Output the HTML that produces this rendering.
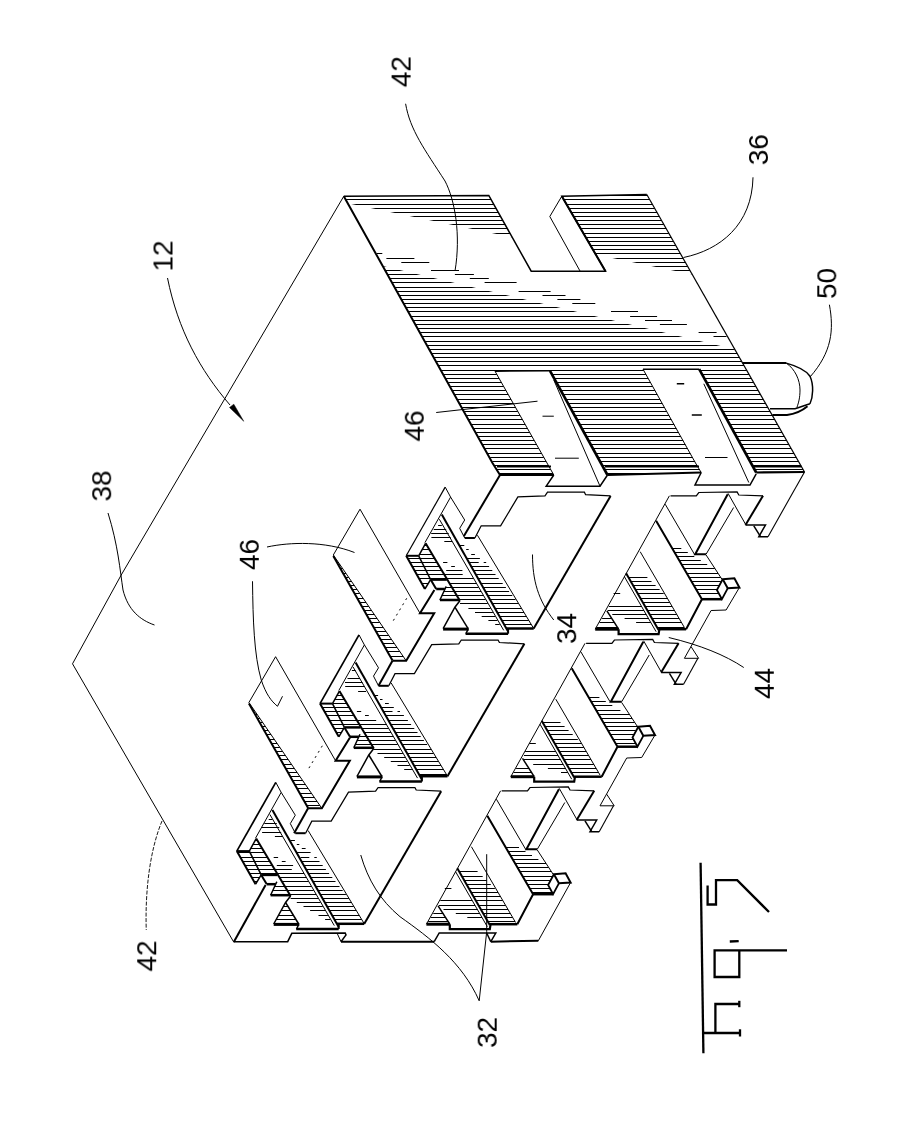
<!DOCTYPE html>
<html><head><meta charset="utf-8"><title>Fig. 7</title>
<style>
html,body{margin:0;padding:0;background:#fff;}
body{width:912px;height:1134px;overflow:hidden;font-family:"Liberation Sans",sans-serif;}
svg{display:block;}
.ln{stroke:#000;fill:none;stroke-linejoin:miter;stroke-linecap:butt;}
svg text{font-family:"Liberation Sans",sans-serif;fill:#000;stroke:none;}
.tx{opacity:.995;}
</style></head><body>
<svg width="912" height="1134" viewBox="0 0 912 1134">
<rect width="912" height="1134" fill="#fff"/>
<g><path class="ln" d="M598.2,195.5H647.3M345.6,199.5H491.0M563.6,199.5H649.6M348.4,204.5H493.8M566.6,204.5H652.4M350.6,208.5H496.0M568.9,208.5H654.7M352.9,212.5H498.3M571.2,212.5H657.0M355.1,216.5H500.5M573.6,216.5H659.3M357.3,220.5H502.8M575.9,220.5H661.5M359.6,224.5H505.0M578.2,224.5H663.8M361.8,228.5H507.3M580.6,228.5H666.1M364.6,233.5H510.1M583.5,233.5H668.9M366.9,237.5H512.3M585.8,237.5H671.2M369.1,241.5H514.6M588.1,241.5H673.5M371.4,245.5H516.8M590.5,245.5H675.7M373.6,249.5H519.0M592.8,249.5H678.0M375.8,253.5H521.3M595.1,253.5H680.3M378.6,258.5H524.1M598.1,258.5H683.1M380.9,262.5H526.3M600.4,262.5H685.4M383.1,266.5H528.6M602.7,266.5H687.7M385.4,270.5H530.8M605.1,270.5H690.0M387.6,274.5H692.2M389.9,278.5H694.5M392.1,282.5H696.8M394.9,287.5H699.6M397.1,291.5H701.9M399.4,295.5H704.2M401.6,299.5H706.4M403.9,303.5H708.7M406.1,307.5H711.0M408.4,311.5H713.3M411.2,316.5H716.1M413.4,320.5H718.4M415.6,324.5H720.7M417.9,328.5H722.9M420.1,332.5H725.2M422.4,336.5H727.5M425.2,341.5H730.3M427.4,345.5H732.6M429.7,349.5H734.9M431.9,353.5H737.1M434.1,357.5H739.4M436.4,361.5H741.7M438.6,365.5H744.0M441.4,370.5H746.8M443.7,374.5H749.1M445.9,378.5H751.3M448.2,382.5H753.6M450.4,386.5H755.9M452.6,390.5H758.2M454.9,394.5H760.4M457.7,399.5H763.3M459.9,403.5H765.6M462.2,407.5H767.8M464.4,411.5H770.1M466.6,415.5H772.4M468.9,419.5H774.7M471.7,424.5H777.5M473.9,428.5H779.8M476.2,432.5H782.0M478.4,436.5H784.3M480.7,440.5H786.6M482.9,444.5H788.9M485.1,448.5H791.1M487.9,453.5H794.0M490.2,457.5H796.3M492.4,461.5H798.5M494.7,465.5H800.8M496.9,469.5H803.1M499.2,473.5H652.2" stroke-width="1"/>
<path class="ln" d="M237.6,852.5H250.0M240.4,857.5H252.5M242.7,861.5H254.5M244.9,865.5H256.5M247.2,869.5H258.5M249.5,873.5H260.5M251.7,877.5H259.6M254.0,881.5H257.2" stroke-width="1"/>
<path class="ln" d="M255.1,840.5H257.3M252.9,844.5H259.6M250.7,848.5H262.0M250.0,852.5H264.3M252.5,857.5H267.2M254.5,861.5H269.6M256.5,865.5H271.9M258.5,869.5H274.3M260.5,873.5H276.6" stroke-width="1"/>
<path class="ln" d="M274.6,886.5H284.4M272.7,890.5H286.7M270.9,894.5H288.9" stroke-width="1"/>
<path class="ln" d="M274.3,869.5H291.8M276.7,873.5H304.0M279.2,877.5H306.3M281.6,881.5H308.6M284.7,886.5H311.4M287.2,890.5H313.7M289.6,894.5H316.0M290.6,898.5H318.2M296.8,902.5H320.5M303.5,906.5H322.8M310.1,910.5H325.1M318.5,915.5H327.9M325.1,919.5H330.2" stroke-width="1"/>
<path class="ln" d="M301.1,861.5H319.5M303.4,865.5H322.7M305.7,869.5H325.9M308.0,873.5H329.1M310.3,877.5H332.3M312.5,881.5H335.5M315.4,886.5H339.5M317.7,890.5H342.7M320.0,894.5H345.9M322.3,898.5H348.9M324.6,902.5H351.3M326.9,906.5H353.8M329.2,910.5H356.2M332.1,915.5H359.3M334.4,919.5H361.7M336.7,923.5H364.1" stroke-width="1"/>
<path class="ln" d="M322.2,707.5H334.4M324.5,711.5H336.4M326.7,715.5H338.4M329.6,720.5H340.9M331.8,724.5H342.9M334.1,728.5H343.7M336.3,732.5H341.3" stroke-width="1"/>
<path class="ln" d="M337.0,695.5H341.9M334.8,699.5H344.3M332.6,703.5H346.6M334.4,707.5H349.0M336.4,711.5H351.3M338.4,715.5H353.7M340.9,720.5H356.6M342.9,724.5H358.9" stroke-width="1"/>
<path class="ln" d="M359.0,736.5H366.2M357.1,740.5H368.5M355.3,744.5H370.7" stroke-width="1"/>
<path class="ln" d="M356.5,720.5H367.5M359.0,724.5H386.4M361.5,728.5H388.7M363.9,732.5H390.9M366.4,736.5H393.2M368.8,740.5H395.5M371.3,744.5H397.7M373.8,749.5H400.6M377.5,753.5H402.9M384.2,757.5H405.1M390.8,761.5H407.4M397.5,765.5H409.7M404.2,769.5H411.9" stroke-width="1"/>
<path class="ln" d="M385.1,715.5H403.9M388.0,720.5H407.9M390.3,724.5H411.1M392.6,728.5H414.3M394.9,732.5H417.5M397.2,736.5H420.7M399.5,740.5H423.9M401.8,744.5H427.1M404.6,749.5H431.1M406.9,753.5H433.6M409.2,757.5H436.1M411.5,761.5H438.5M413.8,765.5H440.9M416.1,769.5H443.4M419.0,774.5H446.4" stroke-width="1"/>
<path class="ln" d="M407.7,558.5H420.0M410.0,562.5H422.0M412.2,566.5H424.0M414.5,570.5H426.0M416.8,574.5H428.0M419.0,578.5H430.0M421.9,583.5H428.2M424.1,587.5H425.8" stroke-width="1"/>
<path class="ln" d="M424.4,545.5H426.8M422.2,549.5H429.2M419.4,554.5H432.1M420.0,558.5H434.5M422.0,562.5H436.8M424.0,566.5H439.2M426.0,570.5H441.5M428.0,574.5H443.8M430.0,578.5H446.2" stroke-width="1"/>
<path class="ln" d="M445.7,587.5H451.8M443.9,591.5H454.0M442.0,595.5H456.2M440.2,599.5H458.4" stroke-width="1"/>
<path class="ln" d="M441.4,570.5H442.7M443.8,574.5H462.7M446.3,578.5H473.6M449.4,583.5H476.5M451.8,587.5H478.7M454.3,591.5H481.0M456.8,595.5H483.3M459.2,599.5H485.5M460.0,603.5H487.8M468.4,608.5H490.6M475.0,612.5H492.9M481.7,616.5H495.2M488.4,620.5H497.5M495.2,624.5H499.7" stroke-width="1"/>
<path class="ln" d="M470.6,566.5H489.1M472.9,570.5H492.3M475.2,574.5H495.5M477.5,578.5H498.7M480.4,583.5H502.7M482.7,587.5H505.9M485.0,591.5H509.1M487.3,595.5H512.3M489.6,599.5H515.5M491.9,603.5H518.5M494.7,608.5H521.5M497.0,612.5H524.0M499.3,616.5H526.4M501.6,620.5H528.9M503.9,624.5H531.3" stroke-width="1"/>
<path class="ln" d="M283.3,906.5H288.0M281.1,910.5H290.4M278.4,915.5H293.5M276.2,919.5H295.9M274.0,923.5H298.4" stroke-width="1"/>
<path class="ln" d="M459.3,871.5H477.6M462.2,876.5H482.7M464.5,880.5H486.8M466.8,884.5H490.8M469.1,888.5H494.9M471.4,892.5H498.0M473.7,896.5H500.4M476.1,900.5H502.7M479.0,905.5H505.6M481.3,909.5H508.0M483.6,913.5H510.3M485.9,917.5H512.7M488.2,921.5H515.0" stroke-width="1"/>
<path class="ln" d="M440.3,900.5H472.3M438.9,905.5H475.2M443.5,909.5H477.5M455.8,913.5H479.8M467.3,917.5H482.0" stroke-width="1"/>
<path class="ln" d="M433.3,913.5H443.2M430.7,917.5H445.7M428.2,921.5H448.1" stroke-width="1"/>
<path class="ln" d="M505.7,847.5H519.0M508.1,851.5H525.5M510.4,855.5H532.0M512.7,859.5H538.4M515.1,863.5H546.0M517.4,867.5H548.7M519.8,871.5H551.3M522.7,876.5H552.0M525.1,880.5H550.2M527.4,884.5H548.3M529.8,888.5H550.0M532.1,892.5H552.2" stroke-width="1"/>
<path class="ln" d="M542.8,722.5H560.5M545.1,726.5H564.6M547.4,730.5H568.6M549.7,734.5H572.7M552.6,739.5H577.8M555.0,743.5H581.6M557.3,747.5H583.9M559.6,751.5H586.2M561.9,755.5H588.6M564.2,759.5H590.9M567.1,764.5H593.9M569.4,768.5H596.2M571.8,772.5H598.5M574.1,776.5H601.5" stroke-width="1"/>
<path class="ln" d="M525.1,751.5H555.9M524.0,755.5H558.2M523.6,759.5H560.4M533.2,764.5H563.3M547.9,768.5H565.6M561.0,772.5H567.9" stroke-width="1"/>
<path class="ln" d="M516.1,768.5H529.1M513.5,772.5H531.6M510.9,776.5H534.1" stroke-width="1"/>
<path class="ln" d="M588.6,697.5H599.4M591.0,701.5H605.8M593.3,705.5H612.3M596.3,710.5H620.4M598.6,714.5H629.4M601.0,718.5H632.1M603.3,722.5H634.7M605.7,726.5H637.4M608.0,730.5H635.7M610.4,734.5H633.9M613.3,739.5H633.6M615.6,743.5H635.8" stroke-width="1"/>
<path class="ln" d="M628.6,577.5H647.4M631.0,581.5H651.5M633.3,585.5H655.6M635.6,589.5H659.6M637.9,593.5H663.7M640.8,598.5H667.4M643.1,602.5H669.8M645.4,606.5H672.1M647.8,610.5H674.4M650.1,614.5H676.8M652.4,618.5H679.1M654.7,622.5H681.5M657.6,627.5H684.4" stroke-width="1"/>
<path class="ln" d="M608.8,606.5H641.7M607.7,610.5H644.0M612.3,614.5H646.3M624.6,618.5H648.6M636.1,622.5H650.8" stroke-width="1"/>
<path class="ln" d="M602.1,618.5H612.0M599.5,622.5H614.5M596.3,627.5H617.5" stroke-width="1"/>
<path class="ln" d="M672.2,548.5H681.3M674.5,552.5H687.8M676.9,556.5H694.3M679.2,560.5H700.8M681.5,564.5H707.2M683.9,568.5H714.8M686.8,573.5H718.1M689.2,577.5H720.8M691.5,581.5H720.8M693.9,585.5H719.0M696.2,589.5H717.1M698.6,593.5H718.8M701.5,598.5H721.5" stroke-width="1"/>
<path class="ln" d="M336.4,560.5H337.1M338.6,564.5H339.8M340.9,568.5H342.6M343.7,573.5H346.0M345.9,577.5H348.8M348.2,581.5H351.6M350.4,585.5H354.3M352.7,589.5H357.1M354.9,593.5H359.8M357.7,598.5H363.3M360.0,602.5H366.0M362.2,606.5H368.8M364.4,610.5H371.5M366.7,614.5H374.3M368.9,618.5H377.1M371.2,622.5H379.8M374.0,627.5H383.3M376.2,631.5H386.0M378.5,635.5H388.8M380.7,639.5H391.5M383.0,643.5H394.3M385.2,647.5H397.0M387.4,651.5H399.8M390.3,656.5H403.2" stroke-width="1"/>
<path class="ln" d="M253.4,710.5H254.4M255.6,714.5H257.2M257.9,718.5H259.9M260.1,722.5H262.7M262.4,726.5H265.4M264.6,730.5H268.2M266.9,734.5H271.0M269.7,739.5H274.4M271.9,743.5H277.2M274.2,747.5H279.9M276.4,751.5H282.7M278.6,755.5H285.4M280.9,759.5H288.2M283.7,764.5H291.6M285.9,768.5H294.4M288.2,772.5H297.1M290.4,776.5H299.9M292.7,780.5H302.6M294.9,784.5H305.4M297.2,788.5H308.2M300.0,793.5H311.6M302.2,797.5H314.4M304.5,801.5H317.1M306.7,805.5H319.9" stroke-width="1"/></g>
<g><polygon points="347.7,203.3 692.5,274.6 735.3,349.5 382.6,265.9" fill="#fff" stroke="none"/>
<path class="ln" d="M376.8,253.5H382.3M386.4,258.5H414.4M401.3,262.5H429.3M431.0,270.5H459.0M454.9,274.5H473.9M469.8,278.5H488.8M484.6,282.5H516.6M518.6,291.5H550.6M542.5,295.5H565.5M557.4,299.5H580.4M572.3,303.5H595.3M611.0,311.5H638.0M630.1,316.5H657.1M645.0,320.5H672.0M659.9,324.5H686.9M698.6,332.5H716.6M713.5,336.5H726.5" stroke-width="1"/>
<polygon points="495.0,371.2 550.0,370.8 607.5,475.0 553.8,475.0" fill="#fff" stroke="none"/>
<polygon points="643.0,369.2 699.0,368.8 756.2,472.5 701.2,472.5" fill="#fff" stroke="none"/></g>
<g><polyline class="ln" points="343.8,196.2 121.2,575.0 72.5,663.8 233.5,941.7" stroke-width="1"/>
<polyline class="ln" points="343.8,196.2 488.8,195.5 531.2,271.2 605.5,271.2 561.8,196.2 646.8,194.5" stroke-width="1.5"/>
<polyline class="ln" points="646.8,194.5 804.5,472.0" stroke-width="1.2"/>
<polyline class="ln" points="497.0,466.5 551.0,466.5" stroke-width="1.8"/>
<polyline class="ln" points="605.0,466.5 699.0,466.5" stroke-width="1.8"/>
<polyline class="ln" points="754.0,466.5 801.5,466.5" stroke-width="1.8"/>
<polyline class="ln" points="343.8,196.2 492.5,463.0 500.0,475.0" stroke-width="2"/>
<polyline class="ln" points="561.8,196.2 549.8,216.5 580.0,271.0" stroke-width="1"/>
<polyline class="ln" points="561.8,196.2 605.5,271.2" stroke-width="2"/>
<polyline class="ln" points="500.0,475.0 553.8,475.0" stroke-width="2.2"/>
<polyline class="ln" points="607.5,475.0 701.2,472.5" stroke-width="2.2"/>
<polyline class="ln" points="756.2,472.5 804.5,472.0" stroke-width="2.2"/>
<polyline class="ln" points="495.0,371.2 550.0,370.8" stroke-width="1.5"/>
<polyline class="ln" points="495.0,371.2 553.8,475.0" stroke-width="1"/>
<polyline class="ln" points="550.0,370.8 607.5,475.0" stroke-width="2.6"/>
<polyline class="ln" points="553.8,380.0 600.0,486.2" stroke-width="1"/>
<polyline class="ln" points="553.8,475.0 546.2,486.2 600.0,486.2 607.5,475.0" stroke-width="1.5"/>
<path class="ln" d="M542.5,416.2H553.8M555.0,458.2H578.8" stroke-width="1"/>
<polyline class="ln" points="643.0,369.2 699.2,369.2" stroke-width="1.5"/>
<polyline class="ln" points="643.0,369.2 695.5,463.0 701.2,472.5" stroke-width="1"/>
<polyline class="ln" points="699.2,369.2 756.2,472.5" stroke-width="2.6"/>
<polyline class="ln" points="703.8,383.8 748.8,482.5" stroke-width="1"/>
<polyline class="ln" points="701.2,472.5 695.0,485.0 750.0,485.0 756.2,473.8" stroke-width="1.5"/>
<path class="ln" d="M676.8,383.8H684.2M691.8,415.0H701.8" stroke-width="1.5"/>
<path class="ln" d="M705.0,457.5H727.5" stroke-width="1"/>
<polyline class="ln" points="436.2,412.5 537.5,401.2" stroke-width="1"/>
<path class="ln" d="M742.5,363.1 L786.25,363.1" stroke-width="2" style="fill:none"/>
<path class="ln" d="M786.25,363.1 C795,365.5 806,370 810,376.25 C814,385 813,397 810,403.75" stroke-width="1.5" style="fill:none"/>
<path class="ln" d="M786.25,363.1 C795,369 800,380 800,390 C800,398 798.5,403 796.9,407.5" stroke-width="1" style="fill:none"/>
<path class="ln" d="M770,408.75 L795,408.75 C800,407.5 805,405 810,403.75" stroke-width="1.5" style="fill:none"/>
<path class="ln" d="M772.5,415 L787,415 C795,414 803,410 807.5,406.25" stroke-width="2" style="fill:none"/>
<path class="ln" d="M167.5,278 C178,330 200,370 230,405" stroke-width="1" style="fill:none"/>
<path class="ln" d="M243.75,421.25 L229.5,407.5 L233.8,404.2 Z" stroke-width="0.5" style="fill:#000"/>
<path class="ln" d="M405.6,103.75 C410,130 425,150 445,181 C455,200 461,235 455,271" stroke-width="1" style="fill:none"/>
<path class="ln" d="M753,177.3 C752,225 720,250 683.5,257.5" stroke-width="1" style="fill:none"/>
<path class="ln" d="M829.4,304.7 C834,330 832,352 810,377" stroke-width="1" style="fill:none"/>
<polyline class="ln" points="700.6,862.8 703.4,1053.2" stroke-width="2.3"/>
<polyline class="ln" points="707.6,885.5 707.6,904.5 716.0,904.5 716.0,880.2 737.2,880.2 769.0,912.0" stroke-width="2.3"/>
<polyline class="ln" points="729.8,941.5 738.7,941.1" stroke-width="2.3"/>
<polyline class="ln" points="787.0,950.4 714.6,950.4 714.6,977.0 739.3,977.0 739.3,950.4" stroke-width="2.3"/>
<polyline class="ln" points="739.3,1004.0 715.4,1004.0 715.4,1033.0" stroke-width="2.3"/>
<polyline class="ln" points="703.4,1033.0 740.0,1033.0" stroke-width="2.4"/>
<polyline class="ln" points="739.3,1000.8 739.3,1007.2" stroke-width="2.3"/>
<polyline class="ln" points="740.0,1029.3 740.0,1036.5" stroke-width="2.3"/>
<path class="ln" d="M268.7,819.5H272.4M264.3,823.5H276.8M261.8,827.5H279.3M262.1,832.5H281.2M274.9,836.5H282.8" stroke-width="1"/>
<path class="ln" d="M273.7,857.5H278.1M281.8,861.5H285.6M276.8,865.5H293.1" stroke-width="1"/>
<path class="ln" d="M290.6,840.5H294.9M296.8,844.5H299.3M301.8,848.5H305.6M296.8,852.5H310.6M300.6,857.5H309.3M314.3,857.5H316.8" stroke-width="1"/>
<polyline class="ln" points="275.8,782.4 236.8,851.1" stroke-width="1.7"/>
<polyline class="ln" points="275.8,782.4 281.2,792.4 295.3,815.2 290.3,823.6 295.3,833.2" stroke-width="1"/>
<polyline class="ln" points="295.3,833.2 305.6,833.2" stroke-width="2"/>
<polyline class="ln" points="305.6,833.2 311.8,821.1 331.2,821.1 348.5,792.2 375.6,791.2 378.1,787.5 414.9,787.5 416.2,790.0 441.2,791.2" stroke-width="1.25"/>
<polyline class="ln" points="441.2,791.2 364.3,923.8" stroke-width="2"/>
<polyline class="ln" points="308.1,830.5 364.3,923.8" stroke-width="1"/>
<polyline class="ln" points="281.2,792.4 255.6,838.0" stroke-width="1"/>
<polyline class="ln" points="272.4,809.9 338.7,926.9" stroke-width="2"/>
<polyline class="ln" points="269.9,814.5 334.3,925.6" stroke-width="1"/>
<polyline class="ln" points="256.2,838.6 290.6,896.0" stroke-width="2"/>
<polyline class="ln" points="236.8,851.1 249.3,851.1" stroke-width="2"/>
<polyline class="ln" points="236.8,851.1 255.6,884.2" stroke-width="2"/>
<polyline class="ln" points="249.3,851.1 261.2,874.9" stroke-width="1.5"/>
<polyline class="ln" points="255.6,884.2 261.2,874.9" stroke-width="1.5"/>
<polyline class="ln" points="256.2,838.6 249.3,851.1" stroke-width="1.5"/>
<polyline class="ln" points="261.2,874.9 277.4,874.9" stroke-width="2.5"/>
<polyline class="ln" points="261.2,874.9 266.8,884.2" stroke-width="2"/>
<polyline class="ln" points="266.8,884.2 275.6,884.2" stroke-width="2.5"/>
<polyline class="ln" points="275.6,884.2 276.8,881.8 270.6,895.2" stroke-width="1.5"/>
<polyline class="ln" points="270.6,895.2 290.6,895.2" stroke-width="2.5"/>
<polyline class="ln" points="290.6,896.0 285.6,902.5 273.7,924.0" stroke-width="1.5"/>
<polyline class="ln" points="285.6,902.5 298.7,924.0" stroke-width="1.5"/>
<polyline class="ln" points="273.7,924.4 299.3,924.4" stroke-width="3"/>
<polyline class="ln" points="298.7,924.4 296.6,929.0" stroke-width="1.5"/>
<polyline class="ln" points="296.2,929.0 338.7,929.0" stroke-width="2.5"/>
<polyline class="ln" points="338.7,929.0 338.7,924.0" stroke-width="2"/>
<polyline class="ln" points="336.8,923.8 364.3,923.8" stroke-width="2.5"/>
<path class="ln" d="M351.9,670.5H355.6M347.5,678.5H360.0M345.0,682.5H362.5M345.2,686.5H364.4M358.1,691.5H366.0" stroke-width="1"/>
<path class="ln" d="M356.9,711.5H361.2M365.0,715.5H368.8M360.0,720.5H376.2" stroke-width="1"/>
<path class="ln" d="M373.8,695.5H378.1M380.0,699.5H382.5M385.0,703.5H388.8M380.0,707.5H393.8M383.8,711.5H392.5M397.5,711.5H400.0" stroke-width="1"/>
<polyline class="ln" points="359.0,634.9 320.0,703.6" stroke-width="1.7"/>
<polyline class="ln" points="359.0,634.9 364.4,644.9 378.5,667.8 373.5,676.1 378.5,685.8" stroke-width="1"/>
<polyline class="ln" points="378.5,685.8 388.8,685.8" stroke-width="2"/>
<polyline class="ln" points="388.8,685.8 395.0,673.6 414.4,673.6 431.7,644.7 458.8,643.8 461.3,640.0 498.1,640.0 499.4,642.5 524.4,643.8" stroke-width="1.25"/>
<polyline class="ln" points="524.4,643.8 447.5,776.2" stroke-width="2"/>
<polyline class="ln" points="391.2,683.0 447.5,776.2" stroke-width="1"/>
<polyline class="ln" points="364.4,644.9 338.8,690.5" stroke-width="1"/>
<polyline class="ln" points="355.6,662.4 421.9,779.4" stroke-width="2"/>
<polyline class="ln" points="353.1,667.0 417.5,778.1" stroke-width="1"/>
<polyline class="ln" points="339.4,691.1 373.8,748.5" stroke-width="2"/>
<polyline class="ln" points="320.0,703.6 332.5,703.6" stroke-width="2"/>
<polyline class="ln" points="320.0,703.6 338.8,736.8" stroke-width="2"/>
<polyline class="ln" points="332.5,703.6 344.4,727.4" stroke-width="1.5"/>
<polyline class="ln" points="338.8,736.8 344.4,727.4" stroke-width="1.5"/>
<polyline class="ln" points="339.4,691.1 332.5,703.6" stroke-width="1.5"/>
<polyline class="ln" points="344.4,727.4 360.6,727.4" stroke-width="2.5"/>
<polyline class="ln" points="344.4,727.4 350.0,736.8" stroke-width="2"/>
<polyline class="ln" points="350.0,736.8 358.8,736.8" stroke-width="2.5"/>
<polyline class="ln" points="358.8,736.8 360.0,734.2 353.8,747.8" stroke-width="1.5"/>
<polyline class="ln" points="353.8,747.8 373.8,747.8" stroke-width="2.5"/>
<polyline class="ln" points="373.8,748.5 368.8,755.0 356.9,776.5" stroke-width="1.5"/>
<polyline class="ln" points="368.8,755.0 381.9,776.5" stroke-width="1.5"/>
<polyline class="ln" points="356.9,776.9 382.5,776.9" stroke-width="3"/>
<polyline class="ln" points="381.9,776.9 379.8,781.5" stroke-width="1.5"/>
<polyline class="ln" points="379.4,781.5 421.9,781.5" stroke-width="2.5"/>
<polyline class="ln" points="421.9,781.5 421.9,776.5" stroke-width="2"/>
<polyline class="ln" points="420.0,776.2 447.5,776.2" stroke-width="2.5"/>
<path class="ln" d="M438.1,525.5H441.8M433.7,529.5H446.2M431.2,533.5H448.7M431.4,537.5H450.6M444.3,541.5H452.2" stroke-width="1"/>
<path class="ln" d="M443.1,562.5H447.4M451.2,566.5H454.9M446.2,570.5H462.4" stroke-width="1"/>
<path class="ln" d="M459.9,545.5H464.3M466.2,549.5H468.7M471.2,554.5H474.9M466.2,558.5H479.9M469.9,562.5H478.7M483.7,562.5H486.2" stroke-width="1"/>
<polyline class="ln" points="445.2,487.1 406.2,555.8" stroke-width="1.2"/>
<polyline class="ln" points="445.2,487.1 450.6,497.1 464.7,520.0 459.7,528.3 464.7,538.0" stroke-width="1"/>
<polyline class="ln" points="464.7,538.0 474.9,538.0" stroke-width="2"/>
<polyline class="ln" points="474.9,538.0 481.2,525.8 500.6,525.8 517.9,496.9 545.0,495.9 547.5,492.2 584.4,492.2 585.6,494.7 610.6,495.9" stroke-width="1.25"/>
<polyline class="ln" points="610.6,495.9 533.7,628.5" stroke-width="2"/>
<polyline class="ln" points="477.4,535.2 533.7,628.5" stroke-width="1"/>
<polyline class="ln" points="450.6,497.1 424.9,542.7" stroke-width="1"/>
<polyline class="ln" points="441.8,514.6 508.1,631.6" stroke-width="2"/>
<polyline class="ln" points="439.3,519.2 503.7,630.3" stroke-width="1"/>
<polyline class="ln" points="425.6,543.3 459.9,600.7" stroke-width="2"/>
<polyline class="ln" points="406.2,555.8 418.7,555.8" stroke-width="2"/>
<polyline class="ln" points="406.2,555.8 424.9,589.0" stroke-width="2"/>
<polyline class="ln" points="418.7,555.8 430.6,579.6" stroke-width="1.5"/>
<polyline class="ln" points="424.9,589.0 430.6,579.6" stroke-width="1.5"/>
<polyline class="ln" points="425.6,543.3 418.7,555.8" stroke-width="1.5"/>
<polyline class="ln" points="430.6,579.6 446.8,579.6" stroke-width="2.5"/>
<polyline class="ln" points="430.6,579.6 436.2,589.0" stroke-width="2"/>
<polyline class="ln" points="436.2,589.0 444.9,589.0" stroke-width="2.5"/>
<polyline class="ln" points="444.9,589.0 446.2,586.5 439.9,600.0" stroke-width="1.5"/>
<polyline class="ln" points="439.9,600.0 459.9,600.0" stroke-width="2.5"/>
<polyline class="ln" points="459.9,600.7 454.9,607.2 443.1,628.7" stroke-width="1.5"/>
<polyline class="ln" points="454.9,607.2 468.1,628.7" stroke-width="1.5"/>
<polyline class="ln" points="443.1,629.1 468.7,629.1" stroke-width="3"/>
<polyline class="ln" points="468.1,629.1 465.9,633.7" stroke-width="1.5"/>
<polyline class="ln" points="465.6,633.7 508.1,633.7" stroke-width="2.5"/>
<polyline class="ln" points="508.1,633.7 508.1,628.7" stroke-width="2"/>
<polyline class="ln" points="506.2,628.5 533.7,628.5" stroke-width="2.5"/>
<path class="ln" d="M444.8,888.5H451.4" stroke-width="1"/>
<polyline class="ln" points="500.6,790.8 426.4,924.2" stroke-width="1"/>
<polyline class="ln" points="496.4,799.2 525.6,849.2" stroke-width="1"/>
<polyline class="ln" points="487.3,815.8 533.1,894.2 517.3,924.2" stroke-width="2"/>
<polyline class="ln" points="489.8,924.2 517.3,924.2" stroke-width="2.5"/>
<polyline class="ln" points="471.4,846.7 515.6,922.5" stroke-width="1"/>
<polyline class="ln" points="457.3,868.3 489.8,925.0" stroke-width="2"/>
<polyline class="ln" points="455.6,871.7 487.3,926.7" stroke-width="1"/>
<polyline class="ln" points="449.8,924.2 449.8,929.2 489.8,929.2 490.6,924.2" stroke-width="2.2"/>
<polyline class="ln" points="438.1,905.8 449.8,924.2" stroke-width="1.5"/>
<polyline class="ln" points="426.4,924.2 449.8,924.2" stroke-width="3"/>
<polyline class="ln" points="558.9,789.2 526.4,849.2 537.3,849.2" stroke-width="2"/>
<polyline class="ln" points="537.3,849.2 564.8,802.5" stroke-width="1"/>
<polyline class="ln" points="537.3,850.0 553.1,874.2" stroke-width="1"/>
<polygon class="ln" points="553.9,874.2 565.6,873.3 570.6,882.5 558.9,883.3" stroke-width="2"/>
<polyline class="ln" points="553.9,874.2 548.1,885.0 553.1,894.2 558.9,883.3" stroke-width="1.8"/>
<polyline class="ln" points="533.1,894.2 553.1,894.2" stroke-width="2.5"/>
<polyline class="ln" points="570.6,882.5 538.3,940.8" stroke-width="1"/>
<path class="ln" d="M529.2,743.5H535.8" stroke-width="1"/>
<polyline class="ln" points="585.0,643.3 510.8,776.7" stroke-width="1"/>
<polyline class="ln" points="580.8,651.7 610.0,701.7" stroke-width="1"/>
<polyline class="ln" points="571.7,668.3 617.5,746.7 601.7,776.7" stroke-width="2"/>
<polyline class="ln" points="574.2,776.7 601.7,776.7" stroke-width="2.5"/>
<polyline class="ln" points="555.8,699.2 600.0,775.0" stroke-width="1"/>
<polyline class="ln" points="541.7,720.8 574.2,777.5" stroke-width="2"/>
<polyline class="ln" points="540.0,724.2 571.7,779.2" stroke-width="1"/>
<polyline class="ln" points="534.2,776.7 534.2,781.7 574.2,781.7 575.0,776.7" stroke-width="2.2"/>
<polyline class="ln" points="522.5,758.3 534.2,776.7" stroke-width="1.5"/>
<polyline class="ln" points="510.8,776.7 534.2,776.7" stroke-width="3"/>
<polyline class="ln" points="501.7,790.8 527.5,790.8 530.0,787.5 568.3,787.0 570.0,790.0 594.2,790.8" stroke-width="1.25"/>
<polyline class="ln" points="594.2,790.8 576.7,820.0" stroke-width="2"/>
<polyline class="ln" points="576.7,820.0 596.7,820.0 590.0,831.7 599.2,831.7" stroke-width="1.5"/>
<polyline class="ln" points="599.2,831.7 613.5,805.8" stroke-width="1.1"/>
<polyline class="ln" points="559.2,788.3 576.7,819.2" stroke-width="1"/>
<polyline class="ln" points="585.0,820.8 591.7,831.7" stroke-width="1.5"/>
<polyline class="ln" points="643.3,641.7 610.8,701.7 621.7,701.7" stroke-width="2"/>
<polyline class="ln" points="621.7,701.7 649.2,655.0" stroke-width="1"/>
<polyline class="ln" points="621.7,702.5 637.5,726.7" stroke-width="1"/>
<polygon class="ln" points="638.3,726.7 650.0,725.8 655.0,735.0 643.3,735.8" stroke-width="2"/>
<polyline class="ln" points="638.3,726.7 632.5,737.5 637.5,746.7 643.3,735.8" stroke-width="1.8"/>
<polyline class="ln" points="617.5,746.7 637.5,746.7" stroke-width="2.5"/>
<polyline class="ln" points="655.0,735.0 641.7,757.5 626.7,758.0 600.0,805.8 614.2,805.8 606.7,794.2" stroke-width="1"/>
<path class="ln" d="M613.6,593.5H620.2" stroke-width="1"/>
<polyline class="ln" points="669.4,495.8 595.2,629.2" stroke-width="1"/>
<polyline class="ln" points="665.2,504.2 694.4,554.2" stroke-width="1"/>
<polyline class="ln" points="656.1,520.8 701.9,599.2 686.1,629.2" stroke-width="2"/>
<polyline class="ln" points="658.6,629.2 686.1,629.2" stroke-width="2.5"/>
<polyline class="ln" points="640.2,551.7 684.4,627.5" stroke-width="1"/>
<polyline class="ln" points="626.1,573.3 658.6,630.0" stroke-width="2"/>
<polyline class="ln" points="624.4,576.7 656.1,631.7" stroke-width="1"/>
<polyline class="ln" points="618.6,629.2 618.6,634.2 658.6,634.2 659.4,629.2" stroke-width="2.2"/>
<polyline class="ln" points="606.9,610.8 618.6,629.2" stroke-width="1.5"/>
<polyline class="ln" points="595.2,629.2 618.6,629.2" stroke-width="3"/>
<polyline class="ln" points="586.1,643.3 611.9,643.3 614.4,640.0 652.7,639.5 654.4,642.5 678.6,643.3" stroke-width="1.25"/>
<polyline class="ln" points="678.6,643.3 661.1,672.5" stroke-width="2"/>
<polyline class="ln" points="661.1,672.5 681.1,672.5 674.4,684.2 683.6,684.2" stroke-width="1.5"/>
<polyline class="ln" points="683.6,684.2 697.9,658.3" stroke-width="1.1"/>
<polyline class="ln" points="643.6,640.8 661.1,671.7" stroke-width="1"/>
<polyline class="ln" points="669.4,673.3 676.1,684.2" stroke-width="1.5"/>
<polyline class="ln" points="727.7,494.2 695.2,554.2 706.1,554.2" stroke-width="2"/>
<polyline class="ln" points="706.1,554.2 733.6,507.5" stroke-width="1"/>
<polyline class="ln" points="706.1,555.0 721.9,579.2" stroke-width="1"/>
<polygon class="ln" points="722.7,579.2 734.4,578.3 739.4,587.5 727.7,588.3" stroke-width="2"/>
<polyline class="ln" points="722.7,579.2 716.9,590.0 721.9,599.2 727.7,588.3" stroke-width="1.8"/>
<polyline class="ln" points="701.9,599.2 721.9,599.2" stroke-width="2.5"/>
<polyline class="ln" points="739.4,587.5 726.1,610.0 711.1,610.5 684.4,658.3 698.6,658.3 691.1,646.7" stroke-width="1"/>
<polyline class="ln" points="670.5,495.8 696.3,495.8 698.8,492.5 737.1,492.0 738.8,495.0 763.0,495.8" stroke-width="1.25"/>
<polyline class="ln" points="763.0,495.8 745.5,525.0" stroke-width="2"/>
<polyline class="ln" points="745.5,525.0 765.5,525.0 758.8,536.7 768.0,536.7" stroke-width="1.5"/>
<polyline class="ln" points="768.0,536.7 804.5,472.0" stroke-width="1.1"/>
<polyline class="ln" points="728.0,493.3 745.5,524.2" stroke-width="1"/>
<polyline class="ln" points="753.8,525.8 760.5,536.7" stroke-width="1.5"/>
<polyline class="ln" points="333.3,555.0 360.0,509.2 420.0,613.3" stroke-width="1"/>
<polyline class="ln" points="333.3,555.0 406.0,660.5" stroke-width="1"/>
<polyline class="ln" points="333.3,556.0 392.5,660.5" stroke-width="2"/>
<polyline class="ln" points="392.5,660.8 406.2,660.8 434.2,613.3 420.0,613.3 434.4,589.9" stroke-width="2"/>
<polyline class="ln" points="392.5,660.8 378.5,685.8" stroke-width="2"/>
<path class="ln" d="M406.7,598.3L391.7,623.3" stroke-width="1" stroke-dasharray="2,4"/>
<polyline class="ln" points="248.9,702.5 275.6,656.7 335.6,760.8" stroke-width="1"/>
<polyline class="ln" points="248.9,702.5 321.6,808.0" stroke-width="1"/>
<polyline class="ln" points="248.9,703.5 308.1,808.0" stroke-width="2"/>
<polyline class="ln" points="308.1,808.2 321.9,808.2 349.8,760.8 335.6,760.8 350.0,737.4" stroke-width="2"/>
<polyline class="ln" points="308.1,808.2 294.1,833.2" stroke-width="2"/>
<path class="ln" d="M322.3,745.8L307.3,770.8" stroke-width="1" stroke-dasharray="2,4"/>
<polyline class="ln" points="233.5,941.7 287.7,941.7 291.8,933.3 345.2,933.0 346.0,935.0 341.0,941.7" stroke-width="1.5"/>
<polyline class="ln" points="341.0,941.7 434.2,941.7" stroke-width="2"/>
<polyline class="ln" points="434.2,941.7 439.2,933.0 495.8,933.0 490.8,941.7" stroke-width="1.5"/>
<polyline class="ln" points="486.7,933.0 490.8,941.7" stroke-width="1.5"/>
<polyline class="ln" points="337.0,933.0 341.0,941.7" stroke-width="1"/>
<polyline class="ln" points="490.8,941.7 538.3,940.8" stroke-width="2"/>
<polyline class="ln" points="233.8,942.0 265.6,884.9" stroke-width="2"/>
<polyline class="ln" points="500.0,475.0 463.8,536.2" stroke-width="2"/>
<path class="ln" d="M162,821 C150,850 145,890 146.25,930" stroke-width="0.9" stroke-dasharray="4,1.5"/>
<path class="ln" d="M252.5,581.25 C253,620 254,655 261.25,680 C266,694 271,701 277.5,706.25 L282.5,696.25" stroke-width="1" style="fill:none"/>
<path class="ln" d="M267,547 C290,542 325,541 354.5,552.5" stroke-width="1" style="fill:none"/>
<path class="ln" d="M532.5,554.5 C532.5,580 538,600 553.75,620" stroke-width="1" style="fill:none"/>
<path class="ln" d="M668.75,637.5 C700,645 725,655 743.75,667.5" stroke-width="1" style="fill:none"/>
<path class="ln" d="M360.75,855 C368,880 380,900 400,916.7 C430,938 462,962 479.2,1000.8" stroke-width="1" style="fill:none"/>
<path class="ln" d="M486.7,854.2 L486.7,931.7 L479.2,1000.8" stroke-width="1" style="fill:none"/>
<path class="ln" d="M108,513 C118,545 120,570 123,590 C128,610 140,620 154.5,625" stroke-width="1" style="fill:none"/></g>
<g class="tx"><text transform="translate(410.6,87.2) rotate(-90)" font-size="28">42</text>
<text transform="translate(768.0,165.2) rotate(-90)" font-size="28">36</text>
<text transform="translate(836.3,299.0) rotate(-90)" font-size="28">50</text>
<text transform="translate(172.5,271.5) rotate(-90)" font-size="28">12</text>
<text transform="translate(111.2,501.5) rotate(-90)" font-size="28">38</text>
<text transform="translate(423.8,441.5) rotate(-90)" font-size="28">46</text>
<text transform="translate(258.8,570.0) rotate(-90)" font-size="28">46</text>
<text transform="translate(576.2,644.0) rotate(-90)" font-size="28">34</text>
<text transform="translate(773.8,699.0) rotate(-90)" font-size="28">44</text>
<text transform="translate(496.7,1048.0) rotate(-90)" font-size="28">32</text>
<text transform="translate(156.2,971.5) rotate(-90)" font-size="28">42</text></g>
</svg>
</body></html>
